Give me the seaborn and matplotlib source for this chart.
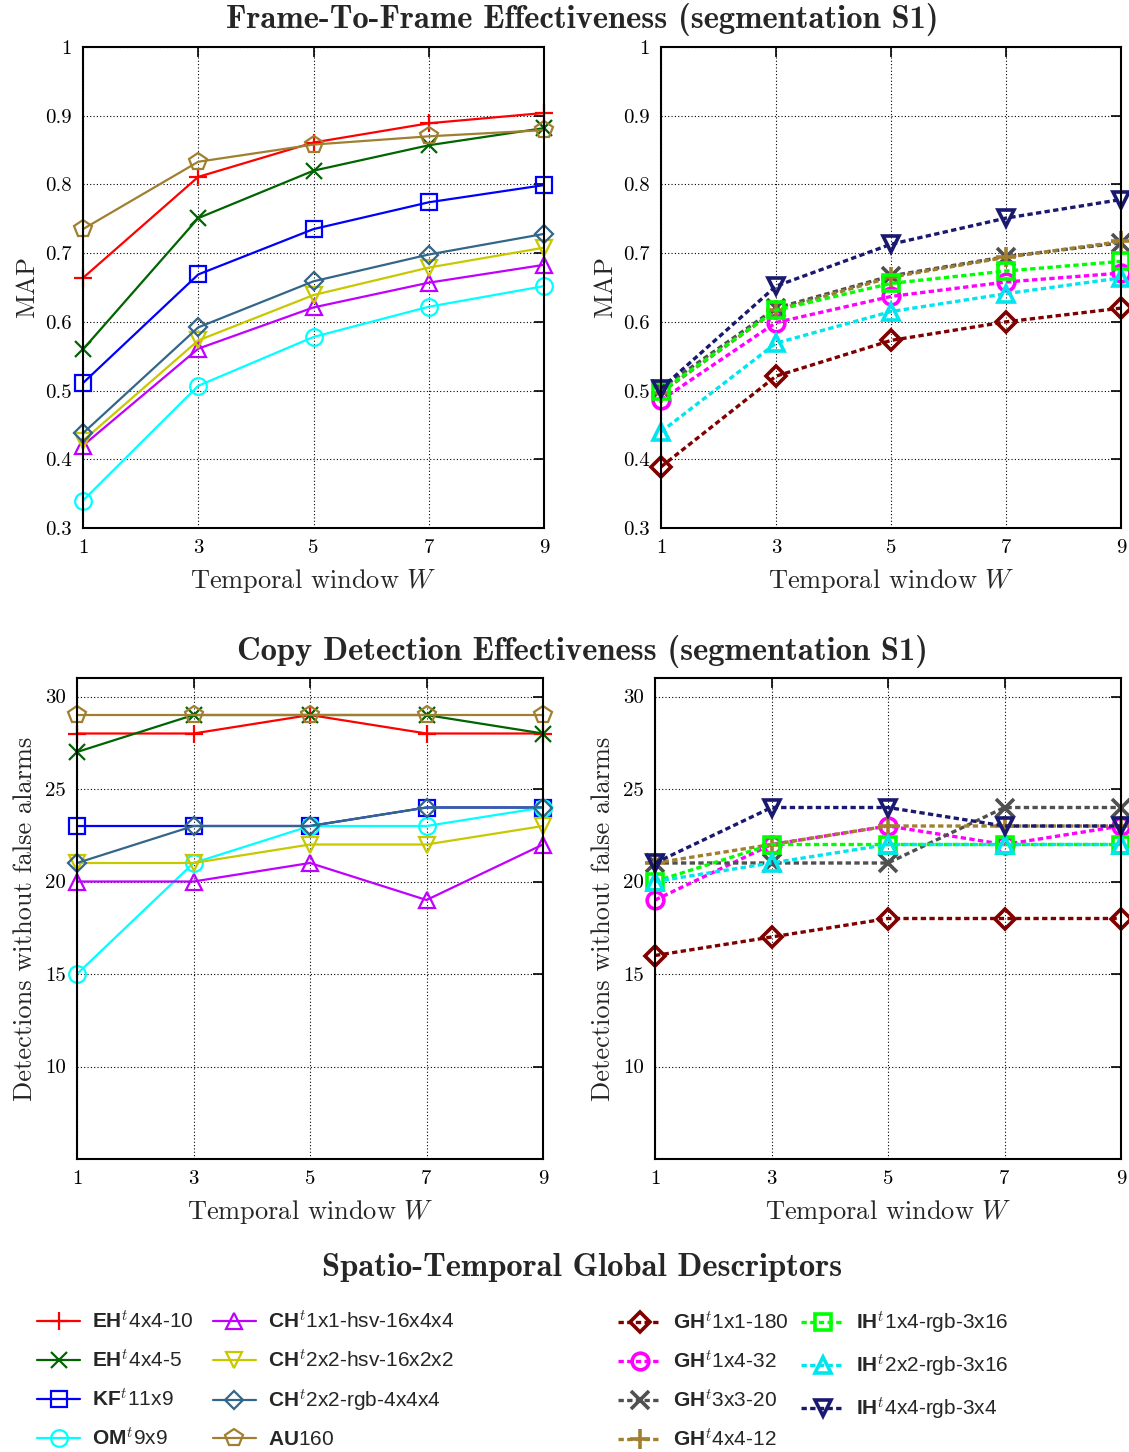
import matplotlib
matplotlib.use("Agg")
import matplotlib.pyplot as plt
import seaborn as sns
import pandas as pd
from matplotlib.ticker import FuncFormatter

# ---- data ----
windows = [1, 3, 5, 7, 9]

left_names = ["EH4x4-10", "EH4x4-5", "KF11x9", "OM9x9",
              "CH1x1-hsv", "CH2x2-hsv", "CH2x2-rgb", "AU160"]
left_labels = [r"$\mathbf{EH}^{t}\text{4x4-10}$", r"$\mathbf{EH}^{t}\text{4x4-5}$",
               r"$\mathbf{KF}^{t}\text{11x9}$", r"$\mathbf{OM}^{t}\text{9x9}$",
               r"$\mathbf{CH}^{t}\text{1x1-hsv-16x4x4}$", r"$\mathbf{CH}^{t}\text{2x2-hsv-16x2x2}$",
               r"$\mathbf{CH}^{t}\text{2x2-rgb-4x4x4}$", r"$\mathbf{AU}\text{160}$"]
left_map = [
    [0.664, 0.811, 0.861, 0.889, 0.904],
    [0.560, 0.751, 0.820, 0.857, 0.882],
    [0.511, 0.669, 0.735, 0.774, 0.799],
    [0.340, 0.507, 0.578, 0.622, 0.652],
    [0.420, 0.561, 0.621, 0.657, 0.683],
    [0.427, 0.573, 0.639, 0.679, 0.708],
    [0.438, 0.592, 0.659, 0.698, 0.728],
    [0.735, 0.833, 0.858, 0.870, 0.879],
]
left_det = [
    [28, 28, 29, 28, 28],
    [27, 29, 29, 29, 28],
    [23, 23, 23, 24, 24],
    [15, 21, 23, 23, 24],
    [20, 20, 21, 19, 22],
    [21, 21, 22, 22, 23],
    [21, 23, 23, 24, 24],
    [29, 29, 29, 29, 29],
]

right_names = ["GH1x1-180", "GH1x4-32", "GH3x3-20", "GH4x4-12",
               "IH1x4", "IH2x2", "IH4x4"]
right_labels = [r"$\mathbf{GH}^{t}\text{1x1-180}$", r"$\mathbf{GH}^{t}\text{1x4-32}$",
                r"$\mathbf{GH}^{t}\text{3x3-20}$", r"$\mathbf{GH}^{t}\text{4x4-12}$",
                r"$\mathbf{IH}^{t}\text{1x4-rgb-3x16}$", r"$\mathbf{IH}^{t}\text{2x2-rgb-3x16}$",
                r"$\mathbf{IH}^{t}\text{4x4-rgb-3x4}$"]
right_map = [
    [0.389, 0.521, 0.573, 0.600, 0.620],
    [0.486, 0.599, 0.637, 0.658, 0.671],
    [0.503, 0.620, 0.667, 0.695, 0.715],
    [0.497, 0.617, 0.665, 0.694, 0.717],
    [0.499, 0.617, 0.656, 0.674, 0.688],
    [0.440, 0.569, 0.615, 0.641, 0.664],
    [0.503, 0.652, 0.713, 0.751, 0.778],
]
right_det = [
    [16, 17, 18, 18, 18],
    [19, 22, 23, 22, 23],
    [21, 21, 21, 24, 24],
    [21, 22, 23, 23, 23],
    [20, 22, 22, 22, 22],
    [20, 21, 22, 22, 22],
    [21, 24, 24, 23, 23],
]

# ---- styles ----
left_colors = ["#ff0000", "#006400", "#0000ff", "#00ffff",
               "#c000ff", "#c8c800", "#336688", "#a08030"]
left_markers = ["+", "x", "s", "o", "^", "v", "D", "p"]
left_ms = [13, 12, 11, 12, 12, 12, 9, 13]

right_colors = ["#800000", "#ff00ff", "#505050", "#a08030",
                "#00ff00", "#00e5ee", "#191970"]
right_markers = ["D", "o", "x", "+", "s", "^", "v"]
right_ms = [10, 12, 13, 14, 11, 12, 12]

sns.set_theme(style="white")
plt.rcParams["font.family"] = ["cmr10"]
plt.rcParams["mathtext.fontset"] = "custom"
plt.rcParams["mathtext.rm"] = "Liberation Sans"
plt.rcParams["mathtext.bf"] = "Liberation Sans:bold"
plt.rcParams["mathtext.it"] = "cmmi10"
plt.rcParams["mathtext.sf"] = "Liberation Sans"
plt.rcParams["axes.unicode_minus"] = False

fig = plt.figure(figsize=(11.29, 14.52), dpi=100)
W, H = 1129, 1452


def box(l, t, r, b):
    return [l / W, 1 - b / H, (r - l) / W, (b - t) / H]


ax_tl = fig.add_axes(box(83, 47, 544, 528))
ax_tr = fig.add_axes(box(661, 47, 1121, 528))
ax_bl = fig.add_axes(box(77, 678, 543, 1159))
ax_br = fig.add_axes(box(655, 678, 1121, 1159))


def draw(ax, series, names, labels, colors, markers, sizes, dashed):
    for vals, name, lab, c, m, ms in zip(series, names, labels, colors, markers, sizes):
        df = pd.DataFrame({"W": windows, "v": vals})
        sns.lineplot(data=df, x="W", y="v", ax=ax, color=c, marker=m,
                     markersize=ms, fillstyle="none",
                     markeredgewidth=2.6 if dashed else 1.6,
                     markeredgecolor=c,
                     lw=2.4 if dashed else 1.6,
                     linestyle=(0, (1.6, 1.0)) if dashed else "-",
                     label=lab, legend=False, clip_on=False)


draw(ax_tl, left_map, left_names, left_labels, left_colors, left_markers, left_ms, False)
draw(ax_bl, left_det, left_names, left_labels, left_colors, left_markers, left_ms, False)
draw(ax_tr, right_map, right_names, right_labels, right_colors, right_markers, right_ms, True)
draw(ax_br, right_det, right_names, right_labels, right_colors, right_markers, right_ms, True)

fmt = FuncFormatter(lambda v, p: f"{v:g}")
for ax in [ax_tl, ax_tr, ax_bl, ax_br]:
    ax.set_xlim(1, 9)
    ax.set_xticks(windows)
    ax.xaxis.set_major_formatter(fmt)
    ax.yaxis.set_major_formatter(fmt)
    ax.grid(True, linestyle=(0, (1, 2)), color="black", lw=0.8)
    ax.tick_params(direction="in", length=7, width=1.2, top=True, right=True,
                   labelsize=15, colors="black", pad=8)
    for s in ax.spines.values():
        s.set_color("black")
        s.set_linewidth(1.5)
    ax.set_xlabel(r"Temporal window $W$", fontsize=19, labelpad=7)

for ax in [ax_tl, ax_tr]:
    ax.set_ylim(0.3, 1.0)
    ax.set_yticks([0.3, 0.4, 0.5, 0.6, 0.7, 0.8, 0.9, 1.0])
    ax.set_ylabel("MAP", fontsize=19, labelpad=4)
for ax in [ax_bl, ax_br]:
    ax.set_ylim(5, 31)
    ax.set_yticks([10, 15, 20, 25, 30])
    ax.set_ylabel("Detections without false alarms", fontsize=19, labelpad=6)

fig.text(582 / W, 1 - 20 / H, "Frame-To-Frame Effectiveness (segmentation S1)",
         fontfamily="cmb10", fontsize=23.5, ha="center", va="center")
fig.text(582 / W, 1 - 652 / H, "Copy Detection Effectiveness (segmentation S1)",
         fontfamily="cmb10", fontsize=23.5, ha="center", va="center")
fig.text(582 / W, 1 - 1268 / H, "Spatio-Temporal Global Descriptors",
         fontfamily="cmb10", fontsize=23.5, ha="center", va="center")

h1, l1 = ax_tl.get_legend_handles_labels()
h2, l2 = ax_tr.get_legend_handles_labels()
fig.legend(h1, l1, ncol=2, loc="upper left", bbox_to_anchor=(37 / W, 1 - 1309 / H),
           frameon=False, fontsize=15, handlelength=2.07, handletextpad=0.58,
           columnspacing=0.9, labelspacing=0.78, borderpad=0, borderaxespad=0)
fig.legend(h2, l2, ncol=2, loc="upper left", bbox_to_anchor=(618 / W, 1 - 1309 / H),
           frameon=False, fontsize=15, handlelength=2.07, handletextpad=0.58,
           columnspacing=0.6, labelspacing=0.78, borderpad=0, borderaxespad=0)

fig.savefig("out.png", dpi=100)
